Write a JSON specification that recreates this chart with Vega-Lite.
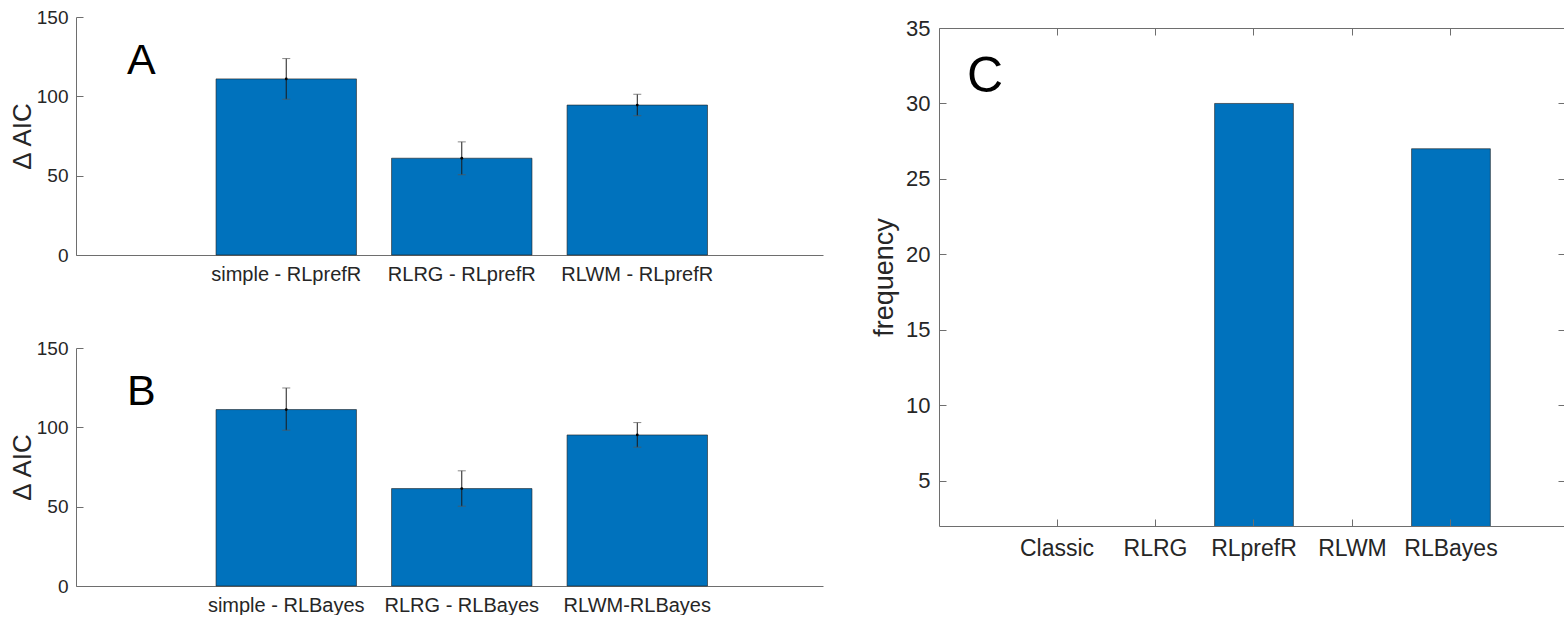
{
  "$schema": "https://vega.github.io/schema/vega-lite/v6.json",
  "padding": {"left": 9, "top": 8, "right": 0, "bottom": 0},
  "spacing": 47,
  "config": {
    "view": {"stroke": null},
    "font": "Liberation Sans",
    "axis": {
      "labelFont": "Liberation Sans",
      "titleFont": "Liberation Sans",
      "labelColor": "#262626",
      "titleColor": "#262626",
      "domainColor": "#6e6e6e",
      "tickColor": "#6e6e6e",
      "grid": false,
      "titleFontWeight": "normal"
    },
    "title": {"font": "Liberation Sans", "fontWeight": "normal", "color": "#000000"}
  },
  "hconcat": [
    {
      "bounds": "flush",
      "spacing": 93,
      "vconcat": [
        {
          "width": 747,
          "height": 238,
          "title": {"text": "A", "anchor": "start", "frame": "group", "fontSize": 43, "dx": 51, "dy": 109, "offset": 0, "baseline": "alphabetic"},
          "data": {"values": [
            {"comparison": "simple - RLprefR", "dAIC": 111.0, "lo": 98.2, "hi": 123.8},
            {"comparison": "RLRG - RLprefR", "dAIC": 61.0, "lo": 50.6, "hi": 71.3},
            {"comparison": "RLWM - RLprefR", "dAIC": 94.5, "lo": 87.8, "hi": 101.3}
          ]},
          "encoding": {
            "x": {"field": "comparison", "type": "nominal", "sort": null,
              "scale": {"paddingInner": 0.2, "paddingOuter": 0.728, "align": 0.548},
              "axis": {"title": null, "labelAngle": 0, "ticks": false, "labelPadding": 9, "labelFontSize": 20}}
          },
          "layer": [
            {"mark": {"type": "bar", "color": "#0072BD", "stroke": "#1f1f1f", "strokeWidth": 0.6},
             "encoding": {"y": {"field": "dAIC", "type": "quantitative", "title": "Δ AIC",
               "scale": {"domain": [0, 150], "nice": false},
               "axis": {"values": [0, 50, 100, 150], "tickSize": -7, "labelPadding": 15, "labelFontSize": 19, "titleFontSize": 26, "titlePadding": 1}}}},
            {"mark": {"type": "rule", "color": "#1a1a1a", "strokeWidth": 1},
             "encoding": {"y": {"field": "lo", "type": "quantitative", "title": "Δ AIC"}, "y2": {"field": "hi"}}},
            {"mark": {"type": "tick", "color": "#555555", "thickness": 1, "size": 8, "orient": "horizontal"},
             "encoding": {"y": {"field": "lo", "type": "quantitative", "title": "Δ AIC"}}},
            {"mark": {"type": "tick", "color": "#555555", "thickness": 1, "size": 8, "orient": "horizontal"},
             "encoding": {"y": {"field": "hi", "type": "quantitative", "title": "Δ AIC"}}},
            {"mark": {"type": "point", "filled": true, "color": "#000000", "size": 8, "opacity": 1},
             "encoding": {"y": {"field": "dAIC", "type": "quantitative", "title": "Δ AIC"}}}
          ]
        },
        {
          "width": 747,
          "height": 238,
          "title": {"text": "B", "anchor": "start", "frame": "group", "fontSize": 43, "dx": 51, "dy": 109, "offset": 0, "baseline": "alphabetic"},
          "data": {"values": [
            {"comparison": "simple - RLBayes", "dAIC": 111.2, "lo": 98.2, "hi": 124.8},
            {"comparison": "RLRG - RLBayes", "dAIC": 61.4, "lo": 50.3, "hi": 72.6},
            {"comparison": "RLWM-RLBayes", "dAIC": 95.2, "lo": 87.5, "hi": 103.0}
          ]},
          "encoding": {
            "x": {"field": "comparison", "type": "nominal", "sort": null,
              "scale": {"paddingInner": 0.2, "paddingOuter": 0.728, "align": 0.548},
              "axis": {"title": null, "labelAngle": 0, "ticks": false, "labelPadding": 9, "labelFontSize": 20}}
          },
          "layer": [
            {"mark": {"type": "bar", "color": "#0072BD", "stroke": "#1f1f1f", "strokeWidth": 0.6},
             "encoding": {"y": {"field": "dAIC", "type": "quantitative", "title": "Δ AIC",
               "scale": {"domain": [0, 150], "nice": false},
               "axis": {"values": [0, 50, 100, 150], "tickSize": -7, "labelPadding": 15, "labelFontSize": 19, "titleFontSize": 26, "titlePadding": 1}}}},
            {"mark": {"type": "rule", "color": "#1a1a1a", "strokeWidth": 1},
             "encoding": {"y": {"field": "lo", "type": "quantitative", "title": "Δ AIC"}, "y2": {"field": "hi"}}},
            {"mark": {"type": "tick", "color": "#555555", "thickness": 1, "size": 8, "orient": "horizontal"},
             "encoding": {"y": {"field": "lo", "type": "quantitative", "title": "Δ AIC"}}},
            {"mark": {"type": "tick", "color": "#555555", "thickness": 1, "size": 8, "orient": "horizontal"},
             "encoding": {"y": {"field": "hi", "type": "quantitative", "title": "Δ AIC"}}},
            {"mark": {"type": "point", "filled": true, "color": "#000000", "size": 8, "opacity": 1},
             "encoding": {"y": {"field": "dAIC", "type": "quantitative", "title": "Δ AIC"}}}
          ]
        }
      ]
    },
    {
      "bounds": "flush",
      "spacing": 9,
      "vconcat": [
        {
          "width": 626,
          "height": 2,
          "data": {"values": [{}]},
          "mark": {"type": "point", "opacity": 0},
          "encoding": {}
        },
        {
          "width": 626,
          "height": 498,
          "title": {"text": "C", "anchor": "start", "frame": "group", "fontSize": 50, "dx": 28, "dy": 125, "offset": 0, "baseline": "alphabetic"},
          "data": {"values": [
            {"model": "Classic", "frequency": 0},
            {"model": "RLRG", "frequency": 0},
            {"model": "RLprefR", "frequency": 30},
            {"model": "RLWM", "frequency": 0},
            {"model": "RLBayes", "frequency": 27}
          ]},
          "layer": [
            {"mark": {"type": "bar", "color": "#0072BD", "stroke": "#1f1f1f", "strokeWidth": 0.6, "clip": true},
             "encoding": {
               "x": {"field": "model", "type": "nominal", "sort": null,
                 "scale": {"paddingInner": 0.2, "paddingOuter": 0.778, "align": 0.513},
                 "axis": {"title": null, "labelAngle": 0, "tickSize": -7, "labelPadding": 18, "labelFontSize": 23, "zindex": 1}},
               "y": {"field": "frequency", "type": "quantitative", "title": "frequency",
                 "scale": {"domain": [2, 35], "nice": false, "zero": false},
                 "axis": {"values": [5, 10, 15, 20, 25, 30, 35], "tickSize": -7, "labelPadding": 16, "labelFontSize": 22, "titleFontSize": 27, "titlePadding": 7, "zindex": 1}}
             }},
            {"mark": {"type": "bar", "opacity": 0, "clip": true},
             "encoding": {
               "x": {"field": "model", "type": "nominal", "sort": null,
                 "axis": {"orient": "top", "title": null, "labels": false, "tickSize": -7, "zindex": 1}},
               "y": {"field": "frequency", "type": "quantitative",
                 "axis": {"orient": "right", "title": null, "labels": false, "values": [5, 10, 15, 20, 25, 30, 35], "tickSize": -7, "zindex": 1}}
             }}
          ],
          "resolve": {"axis": {"x": "independent", "y": "independent"}}
        }
      ]
    }
  ]
}
